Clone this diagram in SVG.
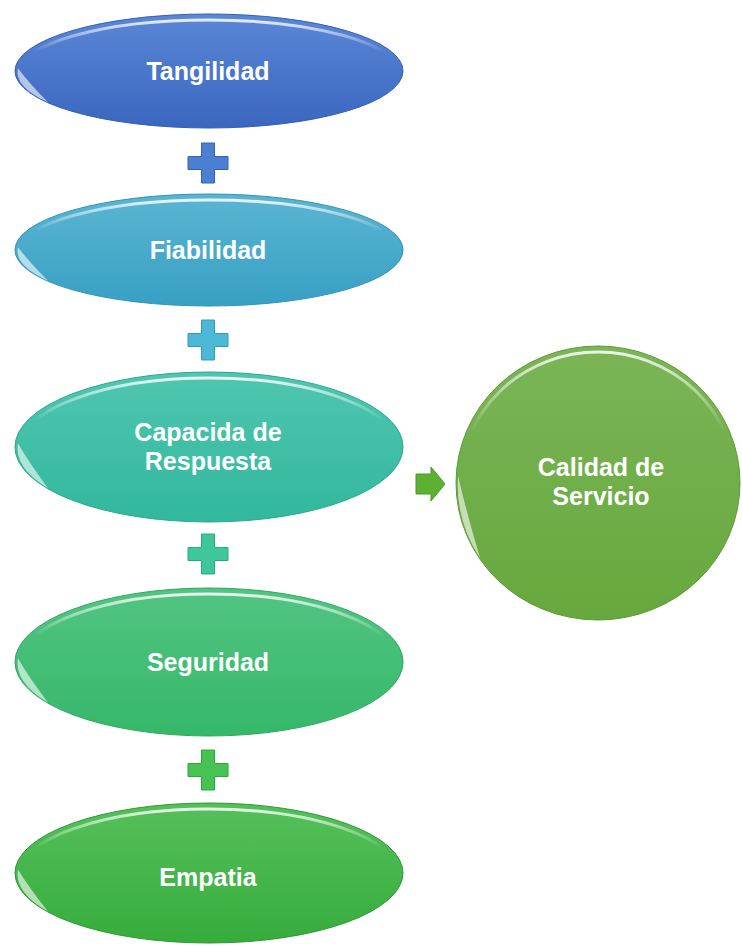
<svg xmlns="http://www.w3.org/2000/svg" width="742" height="946" viewBox="0 0 742 946">
<style>
.lbl{font-family:"Liberation Sans",Arial,sans-serif;font-weight:bold;font-size:25px;fill:#ffffff;text-anchor:middle}
.hl{fill:none;stroke:url(#gloss);stroke-width:3}
.cres{fill:#ffffff;opacity:0.6}
</style>
<defs>
<linearGradient id="gloss" x1="0" y1="0" x2="0" y2="1">
<stop offset="0" stop-color="#fff" stop-opacity="0.85"/>
<stop offset="0.3" stop-color="#fff" stop-opacity="0"/>
<stop offset="1" stop-color="#fff" stop-opacity="0"/>
</linearGradient>
<linearGradient id="g1" x1="0" y1="0" x2="0" y2="1"><stop offset="0" stop-color="#5a87d6"/><stop offset="1" stop-color="#3a66bf"/></linearGradient>
<linearGradient id="g2" x1="0" y1="0" x2="0" y2="1"><stop offset="0" stop-color="#5bb5d2"/><stop offset="1" stop-color="#37a0c4"/></linearGradient>
<linearGradient id="g3" x1="0" y1="0" x2="0" y2="1"><stop offset="0" stop-color="#50c6b0"/><stop offset="1" stop-color="#31b89c"/></linearGradient>
<linearGradient id="g4" x1="0" y1="0" x2="0" y2="1"><stop offset="0" stop-color="#52c482"/><stop offset="1" stop-color="#35b86a"/></linearGradient>
<linearGradient id="g5" x1="0" y1="0" x2="0" y2="1"><stop offset="0" stop-color="#55c05a"/><stop offset="1" stop-color="#36ac3c"/></linearGradient>
<linearGradient id="g6" x1="0" y1="0" x2="0" y2="1"><stop offset="0" stop-color="#7bb556"/><stop offset="1" stop-color="#66a83e"/></linearGradient>
<path id="plus" d="M-6.5,-20 H6.5 V-6.5 H20 V6.5 H6.5 V20 H-6.5 V6.5 H-20 V-6.5 H-6.5 Z"/>
<path id="cr" d="M-0.985,-0.05 A1,1 0 0 0 -0.83,0.55 Q-0.93,0.2 -0.985,-0.05 Z"/>
</defs>

<g id="connectors">
<use href="#plus" x="208" y="163" fill="#4a7fd2" stroke="#3562b5" stroke-width="1"/>
<use href="#plus" x="208" y="340" fill="#4cb8d6" stroke="#2f9dbd" stroke-width="1"/>
<use href="#plus" x="208" y="554" fill="#3fc79c" stroke="#2aa982" stroke-width="1"/>
<use href="#plus" x="208" y="770" fill="#48c252" stroke="#2fa83a" stroke-width="1"/>
<path d="M416,474 H431 V467 L445,484 L431,501 V494 H416 Z" fill="#5cb032" stroke="#4a9a26" stroke-width="1"/>
</g>

<g id="tangilidad">
<ellipse cx="209" cy="71" rx="194" ry="57" fill="url(#g1)" stroke="#3560b0" stroke-width="1"/>
<ellipse class="hl" cx="209" cy="73" rx="190" ry="53"/>
<use href="#cr" class="cres" transform="translate(209,71) scale(194,57)"/>
<text class="lbl" x="208" y="80">Tangilidad</text>
</g>

<g id="fiabilidad">
<ellipse cx="209" cy="250" rx="194" ry="56" fill="url(#g2)" stroke="#2f94b5" stroke-width="1"/>
<ellipse class="hl" cx="209" cy="252" rx="190" ry="52"/>
<use href="#cr" class="cres" transform="translate(209,250) scale(194,56)"/>
<text class="lbl" x="208" y="259">Fiabilidad</text>
</g>

<g id="capacidad">
<ellipse cx="209" cy="447" rx="194" ry="75" fill="url(#g3)" stroke="#2aa88c" stroke-width="1"/>
<ellipse class="hl" cx="209" cy="449" rx="190" ry="71"/>
<use href="#cr" class="cres" transform="translate(209,447) scale(194,75)"/>
<text class="lbl" x="208" y="441">Capacida de</text>
<text class="lbl" x="208" y="470">Respuesta</text>
</g>

<g id="seguridad">
<ellipse cx="209" cy="662" rx="194" ry="74" fill="url(#g4)" stroke="#2ea85e" stroke-width="1"/>
<ellipse class="hl" cx="209" cy="664" rx="190" ry="70"/>
<use href="#cr" class="cres" transform="translate(209,662) scale(194,74)"/>
<text class="lbl" x="208" y="671">Seguridad</text>
</g>

<g id="empatia">
<ellipse cx="209" cy="873" rx="194" ry="70" fill="url(#g5)" stroke="#2f9a35" stroke-width="1"/>
<ellipse class="hl" cx="209" cy="875" rx="190" ry="66"/>
<use href="#cr" class="cres" transform="translate(209,873) scale(194,70)"/>
<text class="lbl" x="208" y="886">Empatia</text>
</g>

<g id="calidad">
<ellipse cx="598" cy="483" rx="142" ry="137" fill="url(#g6)" stroke="#5c9a36" stroke-width="1"/>
<ellipse class="hl" cx="598" cy="485" rx="138" ry="133"/>
<use href="#cr" class="cres" transform="translate(598,483) scale(142,137)"/>
<text class="lbl" x="601" y="476">Calidad de</text>
<text class="lbl" x="601" y="505">Servicio</text>
</g>
</svg>
